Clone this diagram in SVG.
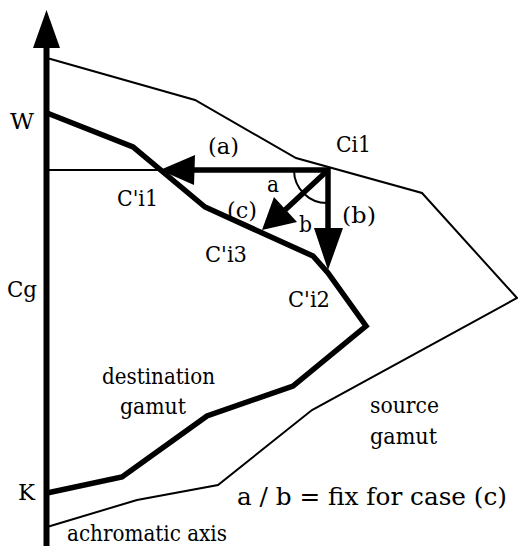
<svg xmlns="http://www.w3.org/2000/svg" width="518" height="546" viewBox="0 0 518 546">
<style>
text{font-family:"DejaVu Serif",serif;font-size:22.8px;fill:#000}
.big{font-size:25px}
.thin{fill:none;stroke:#000;stroke-width:2;stroke-linejoin:miter}
.thick{fill:none;stroke:#000;stroke-width:5.5;stroke-linejoin:miter}
.head{fill:#000;stroke:none}
</style>
<rect width="518" height="546" fill="#fff"/>
<g id="axis">
<line x1="46.5" y1="44" x2="46.5" y2="546" stroke="#000" stroke-width="6"/>
<polygon class="head" points="46.5,10 33,48 60,48"/>
</g>
<g id="source-gamut">
<polyline class="thin" points="47,58 195,100 296,158 422,193 517,298 312,410 218,485 137,500 47,527"/>
</g>
<g id="destination-gamut">
<polyline class="thick" points="47,113 133,147 205,207 313,256 328,273 366,326 293,386 207,416 122,477 47,493"/>
</g>
<g id="connectors">
<line class="thin" x1="47" y1="170" x2="165" y2="170"/>
<line x1="193" y1="170" x2="329" y2="170" stroke="#000" stroke-width="5.5"/>
<polygon class="head" points="160,170 195,155 194,185"/>
<line x1="328" y1="168" x2="328" y2="232" stroke="#000" stroke-width="5.5"/>
<polygon class="head" points="328,270 314,228 343,228"/>
<line x1="328" y1="170" x2="285" y2="210" stroke="#000" stroke-width="5.5"/>
<polygon class="head" points="262,230 274,197 297,222"/>
<path class="thin" d="M294,170 A33,33 0 0 0 328,203"/>
</g>
<g id="labels">
<text x="10" y="129" textLength="24" lengthAdjust="spacingAndGlyphs">W</text>
<text x="7" y="297" textLength="30" lengthAdjust="spacingAndGlyphs">Cg</text>
<text x="18" y="500" textLength="17" lengthAdjust="spacingAndGlyphs">K</text>
<text x="208" y="154" textLength="31" lengthAdjust="spacingAndGlyphs">(a)</text>
<text x="336" y="152" textLength="35" lengthAdjust="spacingAndGlyphs">Ci1</text>
<text x="117" y="206" textLength="41" lengthAdjust="spacingAndGlyphs">C'i1</text>
<text x="267" y="192" textLength="12" lengthAdjust="spacingAndGlyphs">a</text>
<text x="227" y="218" textLength="30" lengthAdjust="spacingAndGlyphs">(c)</text>
<text x="299" y="232" textLength="13" lengthAdjust="spacingAndGlyphs">b</text>
<text x="342" y="223" textLength="34" lengthAdjust="spacingAndGlyphs">(b)</text>
<text x="205" y="262" textLength="42" lengthAdjust="spacingAndGlyphs">C'i3</text>
<text x="288" y="307" textLength="42" lengthAdjust="spacingAndGlyphs">C'i2</text>
<text x="102" y="384" textLength="113" lengthAdjust="spacingAndGlyphs">destination</text>
<text x="120" y="414" textLength="66" lengthAdjust="spacingAndGlyphs">gamut</text>
<text x="370" y="413" textLength="69" lengthAdjust="spacingAndGlyphs">source</text>
<text x="370" y="444" textLength="67" lengthAdjust="spacingAndGlyphs">gamut</text>
<text class="big" x="237" y="505" textLength="270" lengthAdjust="spacingAndGlyphs">a / b = fix for case (c)</text>
<text x="67" y="540.5" textLength="160" lengthAdjust="spacingAndGlyphs">achromatic axis</text>
</g>
</svg>
